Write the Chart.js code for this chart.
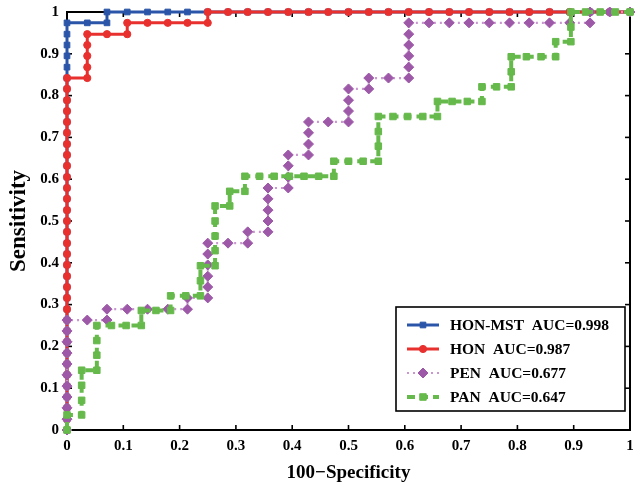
<!DOCTYPE html>
<html><head><meta charset="utf-8">
<script src="https://cdn.jsdelivr.net/npm/chart.js@4.4.1/dist/chart.umd.min.js"></script>
<style>html,body{margin:0;padding:0;background:#fff}</style>
</head><body>
<canvas id="c" width="638" height="487"></canvas>
<script>
// ---------- data ----------
const seriesNames = ['HON-MST', 'HON', 'PEN', 'PAN'];
const aucLabels = ['AUC=0.998', 'AUC=0.987', 'AUC=0.677', 'AUC=0.647'];
const xTickLabels = ['0','0.1','0.2','0.3','0.4','0.5','0.6','0.7','0.8','0.9','1'];
const yTickLabels = ['0','0.1','0.2','0.3','0.4','0.5','0.6','0.7','0.8','0.9','1'];

const hmstX = [0,0,0,0,0,0,0,0,0,0,0,0,0,0,0,0,0,0,0,0,0,0,0,0,0,0,0,0,0,0,0,0,0,0,0,0,0,0,
  .036,.071,.071,.107,.143,.179,.214,.25,.286,.321,.357,.393,.429,.464,.5,.536,.571,.607,.643,.679,.714,.75,.786,.821,.857,.893,.929,.964,1];
const hmstY = [0,.026,.053,.079,.105,.132,.158,.184,.211,.237,.263,.289,.316,.342,.368,.395,.421,.447,.474,.5,.526,.553,.579,.605,.632,.658,.684,.711,.737,.763,.789,.816,.842,.868,.895,.921,.947,.974,
  .974,.974,1,1,1,1,1,1,1,1,1,1,1,1,1,1,1,1,1,1,1,1,1,1,1,1,1,1,1];

const honX = [0,0,0,0,0,0,0,0,0,0,0,0,0,0,0,0,0,0,0,0,0,0,0,0,0,0,0,0,0,0,0,0,0,
  .036,.036,.036,.036,.036,.071,.107,.107,.143,.179,.214,.25,.25,.286,.321,.357,.393,.429,.464,.5,.536,.571,.607,.643,.679,.714,.75,.786,.821,.857,.893,.929,.964,1];
const honY = [0,.026,.053,.079,.105,.132,.158,.184,.211,.237,.263,.289,.316,.342,.368,.395,.421,.447,.474,.5,.526,.553,.579,.605,.632,.658,.684,.711,.737,.763,.789,.816,.842,
  .842,.868,.895,.921,.947,.947,.947,.974,.974,.974,.974,.974,1,1,1,1,1,1,1,1,1,1,1,1,1,1,1,1,1,1,1,1,1,1];

const penX = [0,0,0,0,0,0,0,0,0,0,0,
  .036,.071,.071,.107,.143,.179,.214,.214,.25,.25,.25,.25,.25,.25,.286,.321,.321,.357,.357,.357,.357,.357,
  .393,.393,.393,.393,.429,.429,.429,.429,.464,.5,.5,.5,.5,.536,.536,.571,.607,.607,.607,.607,.607,.607,
  .643,.679,.714,.75,.786,.821,.857,.893,.929,.929,.964,1];
const penY = [0,.026,.053,.079,.105,.132,.158,.184,.211,.237,.263,
  .263,.263,.289,.289,.289,.289,.289,.316,.316,.342,.368,.395,.421,.447,.447,.447,.474,.474,.5,.526,.553,.579,
  .579,.605,.632,.658,.658,.684,.711,.737,.737,.737,.763,.789,.816,.816,.842,.842,.842,.868,.895,.921,.947,.974,
  .974,.974,.974,.974,.974,.974,.974,.974,.974,1,1,1];

const panX = [0,0,.026,.026,.026,.026,.053,.053,.053,.053,.079,.105,.132,.132,.158,.184,.184,.211,.237,.237,.237,
  .263,.263,.263,.263,.263,.289,.289,.316,.316,.342,.368,.395,.421,.447,.474,.474,.5,.526,.553,.553,.553,.553,
  .579,.605,.632,.658,.658,.684,.711,.737,.737,.763,.789,.789,.789,.816,.842,.868,.868,.895,.895,.895,.921,.947,.974,1];
const panY = [0,.036,.036,.071,.107,.143,.143,.179,.214,.25,.25,.25,.25,.286,.286,.286,.321,.321,.321,.357,.393,
  .393,.429,.464,.5,.536,.536,.571,.571,.607,.607,.607,.607,.607,.607,.607,.643,.643,.643,.643,.679,.714,.75,
  .75,.75,.75,.75,.786,.786,.786,.786,.821,.821,.821,.857,.893,.893,.893,.893,.929,.929,.964,1,1,1,1,1];

// ---------- styles ----------
const FONT = "'Liberation Serif', 'Times New Roman', serif";
const BLUE = '#2b55a8', RED = '#e8302e', PURPLE = '#9d59a8', PURPLE_LINE = '#c996cf', GREEN = '#66b94b';

const pts = (xs, ys) => xs.map((x, i) => ({x: x, y: ys[i]}));

const datasets = [
  {label: seriesNames[0], data: pts(hmstX, hmstY), borderColor: BLUE, backgroundColor: BLUE, borderWidth: 3,
   pointStyle: 'rect', pointRadius: 4, pointBorderWidth: 1, pointBackgroundColor: BLUE, pointBorderColor: BLUE, order: 3},
  {label: seriesNames[1], data: pts(honX, honY), borderColor: RED, backgroundColor: RED, borderWidth: 3,
   pointStyle: 'circle', pointRadius: 3.6, pointBorderWidth: 1, pointBackgroundColor: RED, pointBorderColor: RED, order: 2},
  {label: seriesNames[2], data: pts(penX, penY), borderColor: PURPLE_LINE, backgroundColor: PURPLE, borderWidth: 2.2,
   borderDash: [2, 4], pointStyle: 'rectRot', pointRadius: 5, pointBorderWidth: 1, pointBackgroundColor: PURPLE, pointBorderColor: PURPLE, order: 1},
  {label: seriesNames[3], data: pts(panX, panY), borderColor: GREEN, backgroundColor: GREEN, borderWidth: 4,
   borderDash: [8, 5], pointStyle: 'rect', pointRadius: 4.6, pointBorderWidth: 1, pointBackgroundColor: GREEN, pointBorderColor: GREEN, order: 0}
];
datasets.forEach(d => { d.showLine = true; d.clip = false; d.tension = 0; d.fill = false; });

const axesBox = {
  id: 'axesBox',
  beforeDatasetsDraw(chart) {
    const {ctx, chartArea: {left, right, top, bottom}, scales: {x, y}} = chart;
    ctx.save();
    ctx.strokeStyle = '#000';
    ctx.lineWidth = 2;
    ctx.strokeRect(left, top, right - left, bottom - top);
    ctx.lineWidth = 1.6;
    const L = 5;
    const seg = (a, b, c, d) => { ctx.beginPath(); ctx.moveTo(a, b); ctx.lineTo(c, d); ctx.stroke(); };
    x.ticks.forEach(t => { const p = x.getPixelForValue(t.value); seg(p, bottom, p, bottom - L); seg(p, top, p, top + L); });
    y.ticks.forEach(t => { const p = y.getPixelForValue(t.value); seg(left, p, left + L, p); seg(right, p, right - L, p); });
    ctx.restore();
  }
};

const legendBox = {
  id: 'legendBox',
  afterDraw(chart) {
    const ctx = chart.ctx;
    const bx = 396, by = 307, bw = 229, bh = 104;
    ctx.save();
    ctx.fillStyle = '#fff';
    ctx.fillRect(bx, by, bw, bh);
    ctx.strokeStyle = '#000';
    ctx.lineWidth = 1.6;
    ctx.strokeRect(bx, by, bw, bh);
    const rows = [325, 349, 373, 397];
    chart.data.datasets.forEach((d, i) => {
      const yy = rows[i];
      ctx.save();
      ctx.strokeStyle = d.borderColor;
      ctx.lineWidth = d.borderWidth;
      ctx.setLineDash(d.borderDash || []);
      ctx.beginPath(); ctx.moveTo(407, yy); ctx.lineTo(439, yy); ctx.stroke();
      ctx.setLineDash([]);
      ctx.fillStyle = d.pointBackgroundColor;
      ctx.strokeStyle = d.pointBorderColor;
      ctx.lineWidth = d.pointBorderWidth;
      Chart.helpers.drawPoint(ctx, {pointStyle: d.pointStyle, radius: d.pointRadius, rotation: 0, borderWidth: d.pointBorderWidth}, 423, yy);
      ctx.restore();
      ctx.fillStyle = '#000';
      ctx.font = 'bold 15.5px ' + FONT;
      ctx.textBaseline = 'middle';
      ctx.textAlign = 'left';
      ctx.fillText(seriesNames[i] + '  ' + aucLabels[i], 450, yy + 1);
    });
    ctx.restore();
  }
};

new Chart(document.getElementById('c'), {
  type: 'scatter',
  data: {datasets: datasets},
  options: {
    responsive: false, animation: false, devicePixelRatio: 1,
    layout: {padding: {top: 12, right: 8, left: 0, bottom: 0}},
    plugins: {legend: {display: false}, tooltip: {enabled: false}},
    scales: {
      x: {type: 'linear', min: 0, max: 1, position: 'bottom',
        ticks: {stepSize: 0.1, padding: 7, color: '#000', maxRotation: 0, autoSkip: false,
          font: {family: FONT, size: 15, weight: 'bold'}, callback: (v, i) => xTickLabels[i]},
        grid: {display: false, drawTicks: false}, border: {display: false},
        title: {display: true, text: '100\u2212Specificity', color: '#000',
          font: {family: FONT, size: 19, weight: 'bold'}, padding: {top: 0, bottom: 3}},
        afterFit: s => { s.height = 57; s.paddingLeft = 0; s.paddingRight = 0; }
      },
      y: {type: 'linear', min: 0, max: 1, position: 'left',
        ticks: {stepSize: 0.1, padding: 8, color: '#000', autoSkip: false,
          font: {family: FONT, size: 15, weight: 'bold'}, callback: (v, i) => yTickLabels[i]},
        grid: {display: false, drawTicks: false}, border: {display: false},
        title: {display: true, text: 'Sensitivity', color: '#000',
          font: {family: FONT, size: 23, weight: 'bold'}, padding: {top: 5, bottom: 0}},
        afterFit: s => { s.width = 67; s.paddingTop = 0; s.paddingBottom = 0; }
      }
    }
  },
  plugins: [axesBox, legendBox]
});
</script>
</body></html>
